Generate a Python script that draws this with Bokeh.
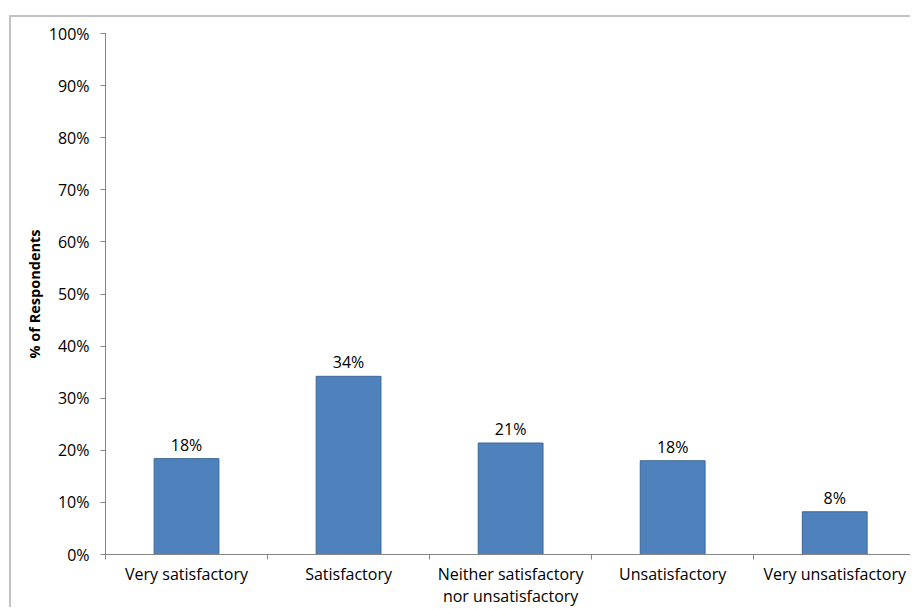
from bokeh.plotting import figure
from bokeh.models import Range1d, FixedTicker, PrintfTickFormatter, ColumnDataSource
from bokeh.core.properties import value
from bokeh.embed import file_html
from bokeh.resources import INLINE

# Survey responses: share of respondents per rating
categories = [
    "Very satisfactory",
    "Satisfactory",
    "Neither satisfactory\nnor unsatisfactory",
    "Unsatisfactory",
    "Very unsatisfactory",
]
percent = [18.4, 34.2, 21.4, 18.0, 8.2]
y_ticks = [0, 10, 20, 30, 40, 50, 60, 70, 80, 90, 100]

FONT = "Open Sans"
TEXT = "#000000"
AXIS_GREY = "#868686"

centers = [i + 0.5 for i in range(len(categories))]
labels = [f"{round(v)}%" for v in percent]
source = ColumnDataSource(data=dict(x=centers, top=percent, label=labels))

p = figure(
    width=901, height=592,
    x_range=Range1d(0, 4.98), y_range=Range1d(0, 100),
    output_backend="svg", toolbar_location=None,
    min_border_left=94, min_border_top=16, min_border_bottom=55, min_border_right=0,
)
p.styles = {
    "border-top": "2px solid #c3c3c3",
    "border-left": "2px solid #c3c3c3",
    "margin-left": "9px",
    "margin-top": "15px",
}
p.outline_line_color = None
p.xgrid.visible = False
p.ygrid.visible = False

p.vbar(x="x", top="top", width=0.4, source=source,
       fill_color="#4f81bd", line_color="#3b6897", line_width=1)
p.text(x="x", y="top", text="label", source=source,
       text_align="center", text_baseline="bottom", y_offset=-3,
       text_font=value(FONT), text_font_size="16px", text_color=TEXT)

# category axis: names at bar centres, tick marks on category boundaries
xa = p.xaxis[0]
xa.ticker = FixedTicker(ticks=centers, minor_ticks=list(range(len(categories) + 1)))
xa.major_label_overrides = {c: name for c, name in zip(centers, categories)}
xa.major_tick_in = 0
xa.major_tick_out = 0
xa.minor_tick_in = 0
xa.minor_tick_out = 5
xa.minor_tick_line_color = AXIS_GREY
xa.axis_line_color = AXIS_GREY
xa.major_label_standoff = 3
xa.major_label_text_font = FONT
xa.major_label_text_font_size = "16px"
xa.major_label_text_line_height = 1.0
xa.major_label_text_color = TEXT

ya = p.yaxis[0]
ya.ticker = FixedTicker(ticks=y_ticks, minor_ticks=[])
ya.formatter = PrintfTickFormatter(format="%d%%")
ya.major_tick_in = 0
ya.major_tick_out = 5
ya.major_tick_line_color = AXIS_GREY
ya.axis_line_color = AXIS_GREY
ya.major_label_standoff = 11
ya.major_label_text_font = FONT
ya.major_label_text_font_size = "16px"
ya.major_label_text_color = TEXT
ya.axis_label = "% of Respondents"
ya.axis_label_text_font = FONT
ya.axis_label_text_font_style = "bold"
ya.axis_label_text_font_size = "14.5px"
ya.axis_label_text_color = TEXT
ya.axis_label_standoff = 2

open("out.html", "w").write(file_html(p, INLINE))
